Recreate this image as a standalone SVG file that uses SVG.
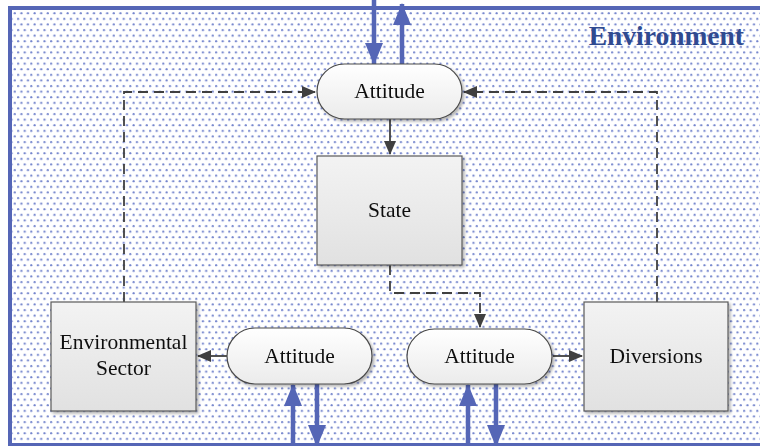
<svg xmlns="http://www.w3.org/2000/svg" width="760" height="446" viewBox="0 0 760 446">
<style>
.box{fill:url(#boxg);stroke:#5a5a5a;stroke-width:1.2}
.cap{fill:url(#capg);stroke:#4a4a4a;stroke-width:1.2}
.lbl{font-family:"Liberation Serif","Times New Roman",serif;font-size:21.5px;fill:#111;text-anchor:middle}
.con{fill:none;stroke:#404040;stroke-width:1.8}
.dash{stroke-dasharray:10,6}
.blue{fill:none;stroke:#5566b6;stroke-width:4.5}
</style>
<defs>
<pattern id="dots" width="6.6" height="11.2" patternUnits="userSpaceOnUse">
<circle cx="1.6" cy="2" r="1.1" fill="#7384cc"/>
<circle cx="4.9" cy="7.6" r="1.1" fill="#7384cc"/>
</pattern>
<linearGradient id="boxg" x1="0" y1="0" x2="0" y2="1">
<stop offset="0" stop-color="#f3f3f3"/><stop offset="1" stop-color="#e1e1e1"/>
</linearGradient>
<linearGradient id="capg" x1="0" y1="0" x2="0" y2="1">
<stop offset="0" stop-color="#ffffff"/><stop offset="1" stop-color="#ebebeb"/>
</linearGradient>
<filter id="sh" x="-10%" y="-10%" width="130%" height="130%">
<feGaussianBlur in="SourceAlpha" stdDeviation="1.5"/>
<feOffset dx="2" dy="2" result="b"/>
<feComponentTransfer><feFuncA type="linear" slope="0.3"/></feComponentTransfer>
<feMerge><feMergeNode/><feMergeNode in="SourceGraphic"/></feMerge>
</filter>
<marker id="ah" markerWidth="14" markerHeight="12" refX="13" refY="6" orient="auto" markerUnits="userSpaceOnUse" viewBox="0 0 14 12">
<path d="M0,0 L14,6 L0,12 z" fill="#404040"/>
</marker>
<marker id="bh" markerWidth="22" markerHeight="18" refX="21" refY="9" orient="auto" markerUnits="userSpaceOnUse" viewBox="0 0 22 18">
<path d="M0,0 L22,9 L0,18 z" fill="#5566b6"/>
</marker>
</defs>
<g id="environment">
<rect x="0" y="0" width="760" height="446" fill="#ffffff"/>
<rect x="10" y="8" width="760" height="437" fill="url(#dots)" stroke="#5566b6" stroke-width="4"/>
<text x="744" y="45" font-family="'Liberation Serif','Times New Roman',serif" font-size="27.5" font-weight="bold" fill="#2f4a90" text-anchor="end">Environment</text>
</g>
<g id="connectors">
<path class="con dash" d="M124,302 V92 H315" marker-end="url(#ah)"/>
<path class="con dash" d="M657,302 V92 H464" marker-end="url(#ah)"/>
<path class="con dash" d="M390,265 V293 H480 V327" marker-end="url(#ah)"/>
<path class="con" d="M390,119 V154" marker-end="url(#ah)"/>
<path class="con" d="M227,356 H198" marker-end="url(#ah)"/>
<path class="con" d="M553,356 H582" marker-end="url(#ah)"/>
<path class="blue" d="M374,0 V64" marker-end="url(#bh)"/>
<path class="blue" d="M402,64 V4" marker-end="url(#bh)"/>
<path class="blue" d="M293,446 V385" marker-end="url(#bh)"/>
<path class="blue" d="M317,384 V446" marker-end="url(#bh)"/>
<path class="blue" d="M468,446 V385" marker-end="url(#bh)"/>
<path class="blue" d="M496,384 V446" marker-end="url(#bh)"/>
</g>
<g id="attitude-top" filter="url(#sh)">
<rect class="cap" x="317" y="64" width="145" height="55" rx="27.5"/>
<text class="lbl" x="389.5" y="98">Attitude</text>
</g>
<g id="state" filter="url(#sh)">
<rect class="box" x="317" y="156" width="145" height="109"/>
<text class="lbl" x="389.5" y="217">State</text>
</g>
<g id="environmental-sector" filter="url(#sh)">
<rect class="box" x="51" y="302" width="145" height="109"/>
<text class="lbl" x="123.5" y="349">Environmental</text>
<text class="lbl" x="123.5" y="375">Sector</text>
</g>
<g id="attitude-left" filter="url(#sh)">
<rect class="cap" x="227" y="328" width="145" height="56" rx="28"/>
<text class="lbl" x="299.5" y="363">Attitude</text>
</g>
<g id="attitude-right" filter="url(#sh)">
<rect class="cap" x="407" y="329" width="145" height="55" rx="27.5"/>
<text class="lbl" x="479.5" y="363">Attitude</text>
</g>
<g id="diversions" filter="url(#sh)">
<rect class="box" x="584" y="302" width="144" height="109"/>
<text class="lbl" x="656" y="363">Diversions</text>
</g>
</svg>
